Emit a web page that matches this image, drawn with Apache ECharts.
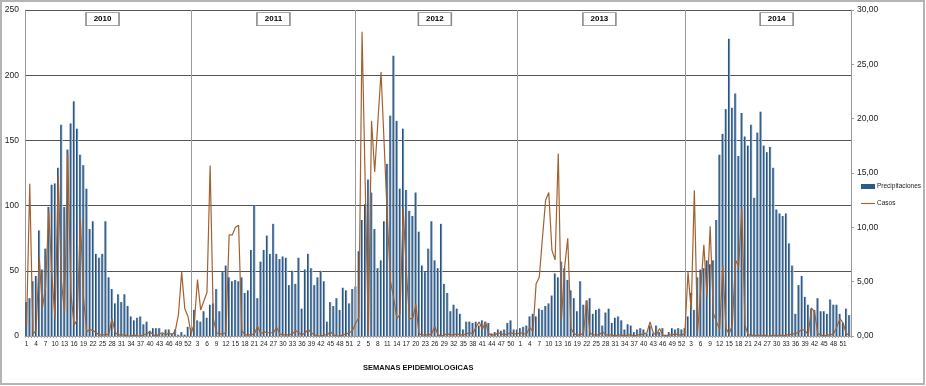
<!DOCTYPE html>
<html>
<head>
<meta charset="utf-8">
<script src="https://cdn.jsdelivr.net/npm/echarts@6/dist/echarts.min.js"></script>
<style>
html, body { margin: 0; padding: 0; background: #fff; }
#main { width: 926px; height: 386px; }
</style>
</head>
<body>
<div id="main"></div>
<script>
// weekly rainfall (left axis) and cases (right axis), 2010-2014
var years = ['2010', '2011', '2012', '2013', '2014'];

var precip2010 = [26,29,42,46,81,51,67,99,116,117,129,162,99,143,163,180,159,139,131,113,82,88,63,60,63,88,45,36,25,32,26,32,23,15,12,14,15,9,11,4,6,6,6,2,5,5,2,5,1,3,1,7];
var precip2011 = [6,20,12,11,19,14,24,25,36,19,49,54,45,42,43,42,45,33,35,66,100,29,57,66,77,63,86,63,59,61,60,39,50,40,60,21,51,63,52,39,45,50,42,11,26,23,29,20,37,35,25,36];
var precip2012 = [38,65,89,101,120,110,82,52,58,88,132,169,215,165,113,159,112,96,92,110,80,54,49,67,88,58,52,86,40,33,19,24,21,17,5,11,11,10,11,8,12,11,10,2,3,5,4,5,10,12,5,5];
var precip2013 = [6,7,8,15,17,15,21,20,23,25,31,48,45,57,52,43,35,29,19,42,24,27,29,17,20,21,8,18,21,10,14,15,12,5,9,8,3,5,6,5,2,8,2,8,3,6,1,3,6,5,6,5];
var precip2014 = [6,15,33,20,45,51,52,58,55,58,89,139,155,174,228,175,186,138,171,153,146,162,106,156,172,146,141,145,129,97,94,92,94,71,54,17,39,46,30,24,21,20,29,19,19,17,28,24,24,17,10,21,16];

var casos2010 = [1.0,14.0,0.2,0.5,7.2,2.6,4.5,11.5,5.5,1.6,14.8,5.0,2.2,16.8,4.0,1.0,1.5,10.8,3.5,0.4,0.6,0.5,0.3,0.1,0.1,0.1,0.2,1.6,0.3,0.1,0.1,0.1,0.0,0.0,0.1,0.0,0.0,0.1,0.2,0.4,0.1,0.0,0.2,0.3,0.1,0.3,0.1,0.5,2.0,5.9,2.5,1.8];
var casos2011 = [0.2,1.2,5.2,2.4,3.2,4.0,15.7,1.6,0.3,0.2,0.2,0.3,9.3,9.3,10.0,10.2,0.5,0.1,0.1,0.1,0.2,0.9,0.2,0.4,0.3,0.3,0.3,0.8,0.2,0.1,0.1,0.1,0.2,0.5,0.3,0.1,0.3,0.6,0.3,0.1,0.0,0.0,0.1,0.1,0.4,0.1,0.0,0.0,0.1,0.2,0.3,0.5];
var casos2012 = [1.2,1.7,28.0,14.0,0.2,19.8,15.1,19.7,24.3,17.6,10.8,5.0,3.5,1.6,2.0,11.7,6.0,1.6,1.6,2.9,0.2,0.1,0.1,0.1,0.2,0.9,0.1,0.0,0.1,0.2,0.1,0.1,0.2,0.1,0.1,0.2,0.3,0.2,0.8,1.3,0.6,1.3,0.2,0.1,0.1,0.3,0.2,0.1,0.2,0.3,0.2,0.2];
var casos2013 = [0.3,0.2,0.2,0.8,0.4,4.8,5.4,9.0,12.5,13.2,7.9,7.0,16.8,1.5,6.3,9.0,0.7,0.2,0.1,0.1,0.3,3.3,0.3,0.1,0.1,0.1,0.4,0.1,0.1,0.1,0.0,0.1,0.1,0.0,0.1,0.1,0.0,0.1,0.1,0.2,0.3,1.3,0.3,0.1,0.7,0.1,0.0,0.1,0.1,0.2,0.1,0.1];
var casos2014 = [0.2,5.9,2.3,13.4,0.3,4.2,8.4,3.6,10.1,2.1,1.3,0.6,6.5,0.7,0.2,1.0,7.0,6.4,11.7,1.0,0.1,0.1,0.0,0.1,0.0,0.1,0.0,0.0,0.1,0.0,0.1,0.0,0.1,0.1,0.2,0.2,0.4,0.6,0.5,0.1,2.6,2.2,0.2,0.1,0.0,0.1,0.1,0.2,0.8,1.6,1.2,0.2,0.1];

// week (0-based, inside each year) where the year label box sits
var yearBoxWeek = [24, 26, 25, 25, 29];

var precipByYear = [precip2010, precip2011, precip2012, precip2013, precip2014];
var casosByYear = [casos2010, casos2011, casos2012, casos2013, casos2014];

var categories = [];
var precip = [];
var casos = [];
var yearStart = [];
for (var y = 0; y < years.length; y++) {
    yearStart.push(categories.length);
    for (var w = 0; w < precipByYear[y].length; w++) {
        categories.push(years[y] + '-' + (w + 1));
        precip.push(precipByYear[y][w]);
        casos.push(casosByYear[y][w]);
    }
}

var sepLines = [];
for (var k = 1; k < yearStart.length; k++) {
    sepLines.push({ xAxis: k == 3 ? yearStart[k] - 1 : yearStart[k] });
}
var yearBoxes = [];
for (var k = 0; k < years.length; k++) {
    yearBoxes.push({ name: years[k], coord: [yearStart[k] + yearBoxWeek[k], 243] });
}

var font = "'Liberation Sans Narrow', 'Liberation Sans', Arial, sans-serif";

var myChart = echarts.init(document.getElementById('main'));
var option = {
    animation: false,
    textStyle: { fontFamily: font },
    grid: {
        left: 25, right: 75, top: 10, bottom: 50,
        containLabel: false,
        outerBoundsMode: 'none'
    },
    legend: {
        orient: 'vertical',
        left: 856,
        top: 178,
        itemWidth: 14,
        itemHeight: 5,
        itemGap: 10,
        textStyle: { fontSize: 6.5, color: '#222', fontFamily: font, padding: [0, 0, 0, -3] },
        data: [
            { name: 'Precipitaciones', icon: 'rect', itemStyle: { color: '#2c5a8a' } },
            { name: 'Casos', icon: 'path://M0,0 L20,0 L20,1.6 L0,1.6 Z' }
        ]
    },
    graphic: [
        {
            type: 'rect',
            shape: { x: 1, y: 1, width: 923, height: 383 },
            style: { fill: 'none', stroke: '#b4b4b4', lineWidth: 2 },
            silent: true
        },
        {
            type: 'text',
            left: 363,
            top: 364,
            style: {
                text: 'SEMANAS EPIDEMIOLOGICAS',
                fontSize: 7.5,
                fontWeight: 'bold',
                fill: '#111',
                fontFamily: font
            }
        }
    ],
    xAxis: {
        type: 'category',
        data: categories,
        boundaryGap: true,
        axisLine: { lineStyle: { color: '#999', width: 1 } },
        axisTick: { show: true, interval: 0, length: 2, lineStyle: { color: '#aaa' } },
        axisLabel: {
            interval: 2,
            fontSize: 6.5,
            color: '#222',
            margin: 5,
            formatter: function (v) { return v.split('-')[1]; }
        },
        splitLine: { show: false }
    },
    yAxis: [
        {
            type: 'value',
            min: 0,
            max: 250,
            interval: 50,
            axisLine: { show: true, lineStyle: { color: '#999' } },
            axisTick: { show: false },
            axisLabel: { fontSize: 8.5, color: '#222', margin: 6 },
            splitLine: { lineStyle: { color: '#555', width: 1 } }
        },
        {
            type: 'value',
            min: 0,
            max: 30,
            interval: 5,
            axisLine: { show: true, lineStyle: { color: '#999' } },
            axisTick: { show: true, length: 3, lineStyle: { color: '#999' } },
            axisLabel: {
                fontSize: 8.5,
                color: '#222',
                margin: 6,
                formatter: function (v) { return v.toFixed(2).replace('.', ','); }
            },
            splitLine: { show: false }
        }
    ],
    series: [
        {
            name: 'Precipitaciones',
            type: 'bar',
            yAxisIndex: 0,
            data: precip,
            barWidth: 2.4,
            itemStyle: {
                color: new echarts.graphic.LinearGradient(0, 0, 1, 0, [
                    { offset: 0, color: '#1b3a5f' },
                    { offset: 0.45, color: '#3c6894' },
                    { offset: 1, color: '#c6dcef' }
                ])
            },
            markLine: {
                silent: true,
                symbol: 'none',
                label: { show: false },
                lineStyle: { color: '#9a9a9a', type: 'solid', width: 1 },
                data: sepLines
            },
            markPoint: {
                silent: true,
                symbol: 'rect',
                symbolSize: [33, 13],
                itemStyle: { color: '#fff', borderColor: '#8a8a8a', borderWidth: 1 },
                label: {
                    show: true,
                    position: 'inside',
                    formatter: '{b}',
                    fontSize: 8,
                    fontWeight: 'bold',
                    color: '#000'
                },
                data: yearBoxes
            }
        },
        {
            name: 'Casos',
            type: 'line',
            yAxisIndex: 1,
            data: casos,
            showSymbol: false,
            symbol: 'none',
            z: 5,
            itemStyle: { color: '#a4612f' },
            lineStyle: { color: '#a4612f', width: 1.2 }
        }
    ]
};
myChart.setOption(option);
</script>
</body>
</html>
